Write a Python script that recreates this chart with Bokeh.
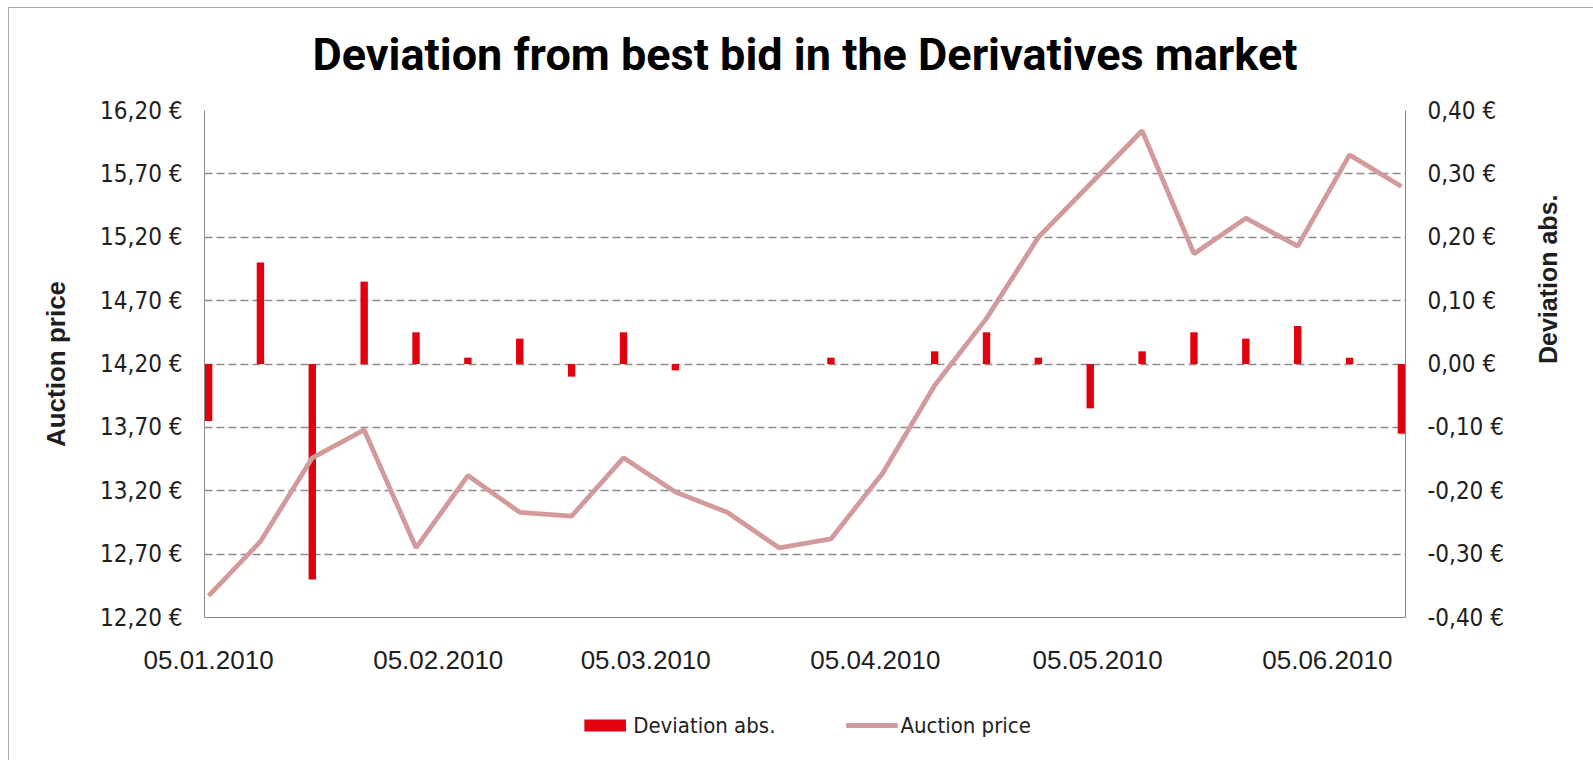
import math
import pandas as pd
from bokeh.plotting import figure
from bokeh.layouts import column
from bokeh.models import (Range1d, LinearAxis, FixedTicker, Legend, LegendItem,
                          ColumnDataSource, Title)
from bokeh.embed import file_html
from bokeh.resources import INLINE

# ---------------- data ----------------
dates = ["05.01.2010", "12.01.2010", "19.01.2010", "26.01.2010", "02.02.2010",
         "09.02.2010", "16.02.2010", "23.02.2010", "02.03.2010", "09.03.2010",
         "16.03.2010", "23.03.2010", "30.03.2010", "06.04.2010", "13.04.2010",
         "20.04.2010", "27.04.2010", "04.05.2010", "11.05.2010", "18.05.2010",
         "25.05.2010", "01.06.2010", "08.06.2010", "15.06.2010"]
deviation_abs = [-0.09, 0.16, -0.34, 0.13, 0.05, 0.01, 0.04, -0.02, 0.05, -0.01,
                 0.0, 0.0, 0.01, 0.0, 0.02, 0.05, 0.01, -0.07, 0.02, 0.05,
                 0.04, 0.06, 0.01, -0.11]
auction_price = [12.37, 12.80, 13.46, 13.68, 12.75, 13.32, 13.03, 13.00, 13.46, 13.19,
                 13.03, 12.75, 12.82, 13.34, 14.03, 14.56, 15.20, 15.62, 16.04, 15.07,
                 15.35, 15.13, 15.85, 15.60]

x_tick_labels = ["05.01.2010", "05.02.2010", "05.03.2010", "05.04.2010",
                 "05.05.2010", "05.06.2010"]
left_ticks = [12.2, 12.7, 13.2, 13.7, 14.2, 14.7, 15.2, 15.7, 16.2]
left_tick_labels = ["12,20 €", "12,70 €", "13,20 €", "13,70 €", "14,20 €",
                    "14,70 €", "15,20 €", "15,70 €", "16,20 €"]
right_ticks = [-0.4, -0.3, -0.2, -0.1, 0, 0.1, 0.2, 0.3, 0.4]
right_tick_labels = ["-0,40 €", "-0,30 €", "-0,20 €", "-0,10 €", "0,00 €",
                     "0,10 €", "0,20 €", "0,30 €", "0,40 €"]

title_text = "Deviation from best bid in the Derivatives market"
left_title = "Auction price"
right_title = "Deviation abs."
series_names = ["Deviation abs.", "Auction price"]

# ---------------- helpers ----------------
DAY = 86400000.0
EPOCH = pd.Timestamp("1970-01-01")


def to_ms(s):
    return float((pd.to_datetime(s, format="%d.%m.%Y") - EPOCH) / pd.Timedelta("1ms"))


x_ms = [to_ms(d) for d in dates]
x_ticks = [to_ms(d) for d in x_tick_labels]

src = ColumnDataSource(dict(x=x_ms, dev=deviation_abs, price=auction_price))

NARROW = "'Liberation Sans Narrow', 'Arial Narrow', 'DejaVu Sans Condensed', sans-serif"
SANS = "'Liberation Sans', Arial, sans-serif"
AXIS_GRAY = "#8a8a8a"
TXT = "#1e1e1e"
BAR_RED = "#e2000f"
LINE_PINK = "#d29a9a"
LINE_W = 4.8

MAIN_H = 682
LEG_H = 752 - MAIN_H

p = figure(width=1584, height=MAIN_H, x_axis_type="datetime", title=None,
           x_range=Range1d(x_ms[0] - 0.55 * DAY, x_ms[-1] + 0.55 * DAY),
           y_range=Range1d(12.2, 16.2),
           min_border_left=195, min_border_right=188,
           min_border_top=102, min_border_bottom=MAIN_H - 102 - 507,
           output_backend="svg", toolbar_location=None)
p.outline_line_color = None
p.background_fill_color = "white"
p.border_fill_color = "white"

# title: a thin spacer box next to the frame, then the real title above it
p.add_layout(Title(text=" ", text_font_size="1px", standoff=27), "above")
p.add_layout(Title(text=title_text, align="center", text_font="Roboto",
                   text_font_style="bold", text_font_size="45px",
                   text_color="black", standoff=0), "above")

p.extra_y_ranges = {"dev": Range1d(-0.4, 0.4)}

# grid
p.xgrid.visible = False
p.ygrid.ticker = FixedTicker(ticks=left_ticks)
p.ygrid.grid_line_color = "#8c8c8c"
p.ygrid.grid_line_dash = "8 4"
p.ygrid.grid_line_width = 1.3

# left axis
ya = p.yaxis[0]
ya.ticker = FixedTicker(ticks=left_ticks)
ya.major_label_overrides = dict(zip(left_ticks, left_tick_labels))
ya.major_label_text_font = NARROW
ya.major_label_text_font_size = "24px"
ya.major_label_text_color = TXT
ya.major_label_standoff = 16
ya.axis_line_color = AXIS_GRAY
ya.major_tick_line_color = None
ya.minor_tick_line_color = None
ya.axis_label = left_title
ya.axis_label_text_font = SANS
ya.axis_label_text_font_style = "bold"
ya.axis_label_text_font_size = "26px"
ya.axis_label_text_color = TXT
ya.axis_label_standoff = 26

# right axis
ra = LinearAxis(y_range_name="dev", ticker=FixedTicker(ticks=right_ticks))
ra.major_label_overrides = dict(zip(right_ticks, right_tick_labels))
ra.major_label_text_font = NARROW
ra.major_label_text_font_size = "24px"
ra.major_label_text_color = TXT
ra.major_label_standoff = 16
ra.axis_line_color = AXIS_GRAY
ra.major_tick_line_color = None
ra.minor_tick_line_color = None
ra.axis_label = right_title
ra.axis_label_orientation = math.pi / 2
ra.axis_label_text_font = SANS
ra.axis_label_text_font_style = "bold"
ra.axis_label_text_font_size = "25px"
ra.axis_label_text_color = TXT
ra.axis_label_standoff = 41
p.add_layout(ra, "right")

# bottom axis
xa = p.xaxis[0]
xa.ticker = FixedTicker(ticks=x_ticks)
xa.major_label_overrides = dict(zip(x_ticks, x_tick_labels))
xa.major_label_text_font = SANS
xa.major_label_text_font_size = "26px"
xa.major_label_text_color = TXT
xa.major_label_standoff = 27
xa.axis_line_color = AXIS_GRAY
xa.major_tick_line_color = None
xa.minor_tick_line_color = None

# glyphs
bars = p.vbar(x="x", top="dev", bottom=0, width=1.0 * DAY, source=src,
              y_range_name="dev", fill_color=BAR_RED, line_color=None)
line = p.line(x="x", y="price", source=src, line_color=LINE_PINK, line_width=LINE_W)

# legend strip: a separate canvas under the chart; its renderers reuse the same
# series (hidden) only so that the legend can draw their swatches
lf = figure(width=1584, height=LEG_H, x_range=Range1d(0, 1), y_range=Range1d(0, 1),
            x_axis_location=None, y_axis_location=None, min_border=0,
            output_backend="svg", toolbar_location=None)
lf.outline_line_color = None
lf.grid.visible = False
lf.background_fill_color = "white"
lf.border_fill_color = "white"
leg_bar = lf.vbar(x="x", top="dev", bottom=0, width=1.0 * DAY, source=src,
                  fill_color=BAR_RED, line_color=None, visible=False)
leg_line = lf.line(x="x", y="price", source=src, line_color=LINE_PINK,
                   line_width=LINE_W, visible=False)

legend = Legend(items=[LegendItem(label=series_names[0], renderers=[leg_bar]),
                       LegendItem(label=series_names[1], renderers=[leg_line])],
                orientation="horizontal", location="center",
                border_line_color=None, background_fill_alpha=0,
                inactive_fill_alpha=0,
                padding=0, margin=0, spacing=70, glyph_width=52, glyph_height=15,
                label_standoff=3, label_text_font=NARROW,
                label_text_font_size="22px", label_text_color=TXT)
lf.add_layout(legend)

layout = column(p, lf, spacing=0,
                styles={"margin-left": "8px", "margin-top": "7px",
                        "border-left": "1px solid #a8a8a8",
                        "border-top": "1px solid #a8a8a8"})

open("out.html", "w").write(file_html(layout, INLINE))
